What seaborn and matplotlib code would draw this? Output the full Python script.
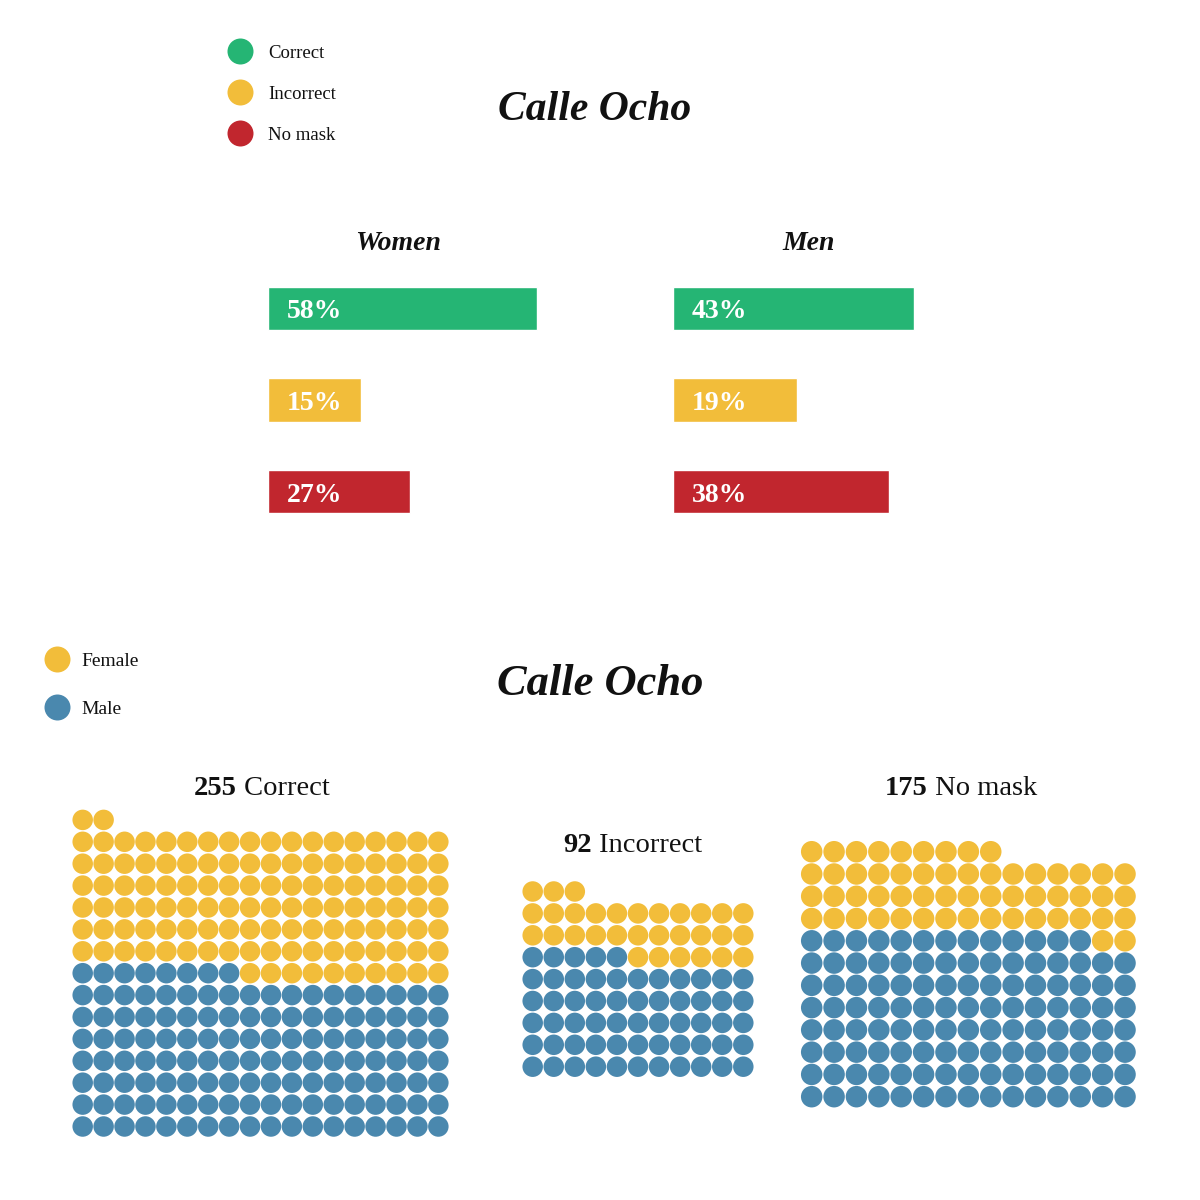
import numpy as np
import pandas as pd
import matplotlib
matplotlib.use("Agg")
import matplotlib.pyplot as plt
import seaborn as sns

# ---------------- data ----------------
statuses = ["Correct", "Incorrect", "No mask"]
women_pct = [58, 15, 27]
men_pct = [43, 19, 38]
female_counts = [120, 31, 56]
male_counts = [134, 60, 118]
total_labels = [255, 92, 175]
sexes = ["Female", "Male"]
title = "Calle Ocho"

# ---------------- styles ----------------
status_colors = {"Correct": "#25b574", "Incorrect": "#f2bd3a", "No mask": "#c1262e"}
sex_colors = {"Female": "#f2bd3a", "Male": "#4a88ae"}

sns.set_theme(style="white")
plt.rcParams["font.family"] = ["Liberation Serif", "DejaVu Serif"]
TXT = "#111111"

fig = plt.figure(figsize=(12, 12), dpi=100)
ax0 = fig.add_axes([0, 0, 1, 1])
ax0.set_xlim(0, 1200)
ax0.set_ylim(1200, 0)
ax0.axis("off")
PX = 72 / 100.0  # points per pixel

def dot_size(d_px):
    return (d_px * PX) ** 2

# ---------------- top legend ----------------
leg_y = [51, 92, 133]
for st, y in zip(statuses, leg_y):
    ax0.scatter([240], [y], s=dot_size(26), color=status_colors[st], linewidth=0)
    ax0.text(268, y + 7, st, size=13.5, color=TXT, ha="left", va="baseline")

ax0.text(595, 120, title, size=30, weight="bold", style="italic",
         color=TXT, ha="center", va="baseline")
ax0.text(398, 250, "Women", size=20, weight="bold", style="italic",
         color=TXT, ha="center", va="baseline")
ax0.text(809, 250, "Men", size=20, weight="bold", style="italic",
         color=TXT, ha="center", va="baseline")

# ---------------- bar panels ----------------
def bar_panel(left_px, width_px, zero_px, px_per_unit, values):
    top_px, bottom_px = 262.75, 537.25
    ax = fig.add_axes([left_px / 1200, 1 - bottom_px / 1200,
                       width_px / 1200, (bottom_px - top_px) / 1200])
    df = pd.DataFrame({"status": statuses, "pct": values})
    sns.barplot(data=df, y="status", x="pct", hue="status", order=statuses,
                hue_order=statuses, palette=status_colors, orient="h",
                width=0.47, saturation=1, legend=False, ax=ax)
    x0 = -(zero_px - left_px) / px_per_unit
    ax.set_xlim(x0, x0 + width_px / px_per_unit)
    ax.set_ylim(2.5, -0.5)
    ax.axis("off")
    for p in ax.patches:
        right = p.get_x() + p.get_width()
        p.set_x(x0)
        p.set_width(right - x0)
    for i, v in enumerate(values):
        ax.annotate(f"{v}%", xy=(x0, i), xytext=(19 * PX, -10 * PX),
                    textcoords="offset points", color="white", weight="bold",
                    size=20, ha="left", va="baseline")
    return ax

bar_panel(268, 332, 299.4, 4.089, women_pct)
bar_panel(673, 327, 704.1, 4.878, men_pct)

# ---------------- bottom legend + title ----------------
for sx, y in zip(sexes, [659, 707]):
    ax0.scatter([57], [y], s=dot_size(26), color=sex_colors[sx], linewidth=0)
    ax0.text(81, y + 7, sx, size=14, color=TXT, ha="left", va="baseline")

ax0.text(600, 695, title, size=32, weight="bold", style="italic",
         color=TXT, ha="center", va="baseline")

# ---------------- waffles ----------------
ncols = [18, 11, 15]
x_first = [82.7, 532.7, 811.7]
dx = [20.92, 21.06, 22.38]
y_bottom = [1126.5, 1066.7, 1096.7]
dy = [21.9, 21.9, 22.27]
diam = [20.5, 20.5, 21.5]

recs = []
for i, st in enumerate(statuses):
    cells = ["Male"] * male_counts[i] + ["Female"] * female_counts[i]
    for k, sx in enumerate(cells):
        r, c = divmod(k, ncols[i])
        recs.append({"status": st, "sex": sx,
                     "x": x_first[i] + c * dx[i],
                     "y": y_bottom[i] - r * dy[i]})
dots = pd.DataFrame(recs)

for i, st in enumerate(statuses):
    sns.scatterplot(data=dots[dots["status"] == st], x="x", y="y", hue="sex",
                    palette=sex_colors, s=dot_size(diam[i]), linewidth=0,
                    legend=False, ax=ax0)
ax0.set_xlim(0, 1200)
ax0.set_ylim(1200, 0)
ax0.axis("off")

# labels above waffles: bold number + regular word, centred as a whole
renderer = fig.canvas.get_renderer()
label_cx = [262, 633, 961]
label_base = [795, 852, 795]
for i, st in enumerate(statuses):
    t1 = ax0.text(0, label_base[i], f"{total_labels[i]}", size=20.5,
                  weight="bold", color=TXT, ha="left", va="baseline")
    t2 = ax0.text(0, label_base[i], f" {st}", size=20.5, color=TXT,
                  ha="left", va="baseline")
    w1 = t1.get_window_extent(renderer).width
    w2 = t2.get_window_extent(renderer).width
    start = label_cx[i] - (w1 + w2) / 2
    t1.set_x(start)
    t2.set_x(start + w1)

fig.savefig("out.png", dpi=100, facecolor="white")
